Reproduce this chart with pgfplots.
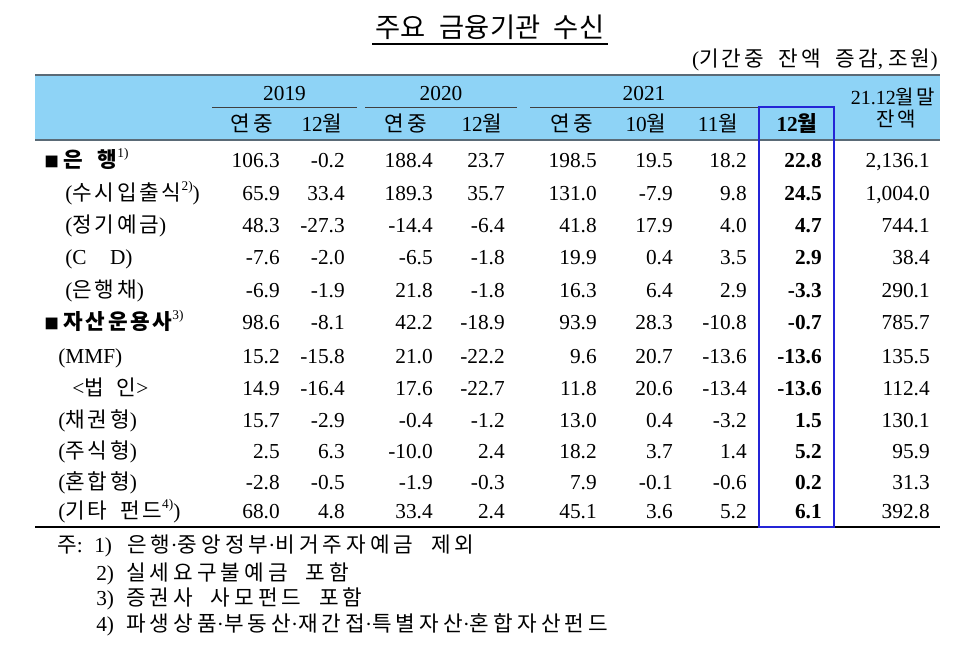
\documentclass[border=0pt]{standalone}
\usepackage{fontspec}
\setmainfont{Liberation Serif}
\newfontfamily\kr[Scale=1.0, LetterSpace=13]{Noto Sans CJK KR}
\newfontfamily\krn[Scale=1.0, LetterSpace=19]{Noto Sans CJK KR}
\newfontfamily\krt{Noto Sans CJK KR}
\usepackage{pgfplots}
\usepackage{pgfplotstable}
\pgfplotsset{compat=1.18}
\definecolor{band}{HTML}{8ED3F6}
\definecolor{boxblue}{HTML}{2424D6}
\definecolor{rulegray}{HTML}{5A6A76}
\newcommand\K[1]{{\kr #1}}
\newcommand\N[1]{{\krn #1}}
\newcommand\sps[1]{\raisebox{0.45em}{\fontsize{10}{10}\selectfont #1}}

% yb = baseline of the row (pixels from top)
\pgfplotstableread{
yb    a     b     c     d     e     f     g     h     bal
167.5 106.3 -0.2  188.4 23.7  198.5 19.5  18.2  22.8  2,136.1
200   65.9  33.4  189.3 35.7  131.0 -7.9  9.8   24.5  1,004.0
232   48.3  -27.3 -14.4 -6.4  41.8  17.9  4.0   4.7   744.1
264   -7.6  -2.0  -6.5  -1.8  19.9  0.4   3.5   2.9   38.4
297   -6.9  -1.9  21.8  -1.8  16.3  6.4   2.9   -3.3  290.1
329.5 98.6  -8.1  42.2  -18.9 93.9  28.3  -10.8 -0.7  785.7
363   15.2  -15.8 21.0  -22.2 9.6   20.7  -13.6 -13.6 135.5
395   14.9  -16.4 17.6  -22.7 11.8  20.6  -13.4 -13.6 112.4
427   15.7  -2.9  -0.4  -1.2  13.0  0.4   -3.2  1.5   130.1
458.5 2.5   6.3   -10.0 2.4   18.2  3.7   1.4   5.2   95.9
489.5 -2.8  -0.5  -1.9  -0.3  7.9   -0.1  -0.6  0.2   31.3
518.5 68.0  4.8   33.4  2.4   45.1  3.6   5.2   6.1   392.8
}\deposits

\begin{document}
\begin{tikzpicture}[font=\fontsize{16}{19}\selectfont,
  lab/.style={anchor=base west, inner sep=0pt},
  hd/.style={anchor=base, inner sep=0pt}]
\begin{axis}[width=729pt, height=495pt, scale only axis,
  xmin=0, xmax=972, ymin=0, ymax=660, y dir=reverse,
  hide axis, clip=false,
  cell/.style={draw=none, mark=none, nodes near coords,
    point meta=explicit symbolic,
    every node near coord/.append style={anchor=base east, inner sep=0pt,
      font=\fontsize{16}{19}\selectfont}},
  boldcell/.style={cell,
    every node near coord/.append style={font=\fontsize{16}{19}\selectfont\bfseries}}]

\fill[white] (0,0) rectangle (972,660);

% title and unit
\node[hd] at (490,38) {\fontsize{20.5}{24}\selectfont\krt 주요\hspace{0.5em}금융기관\hspace{0.5em}수신};
\draw[line width=0.9pt] (372,44) -- (608,44);
\node[anchor=base east, inner sep=0pt] at (938,67) {(\K{기간중\ \ 잔액\ \ 증감}, \K{조원})};

% header band
\fill[band] (35,75) rectangle (940,140);
\draw[rulegray, line width=1.5pt] (35,75) -- (940,75);
\draw[rulegray, line width=1.5pt] (35,140) -- (940,140);
\draw[black!75, line width=0.7pt] (212,107) -- (357,107);
\draw[black!75, line width=0.7pt] (365,107) -- (517,107);
\draw[black!75, line width=0.7pt] (530,107) -- (758,107);

\node[hd] at (284.5,101) {2019};
\node[hd] at (441,101) {2020};
\node[hd] at (644,101) {2021};
\node[hd] at (893,104) {\fontsize{15}{17}\selectfont 21.12\K{월말}};
\node[hd] at (896,127) {\fontsize{15}{17}\selectfont\K{잔액}};

\node[hd] at (252,132) {\K{연중}};
\node[hd] at (322,132) {12\K{월}};
\node[hd] at (406,132) {\K{연중}};
\node[hd] at (482,132) {12\K{월}};
\node[hd] at (572,132) {\K{연중}};
\node[hd] at (646,132) {10\K{월}};
\node[hd] at (718,132) {11\K{월}};
\node[hd] at (797,132) {\textbf{12}\K{\bfseries 월}};

% row labels
\node[lab] at (44,167.5) {\fontsize{11}{11}\selectfont\krt ■};
\node[lab] at (63,167.5) {\K{\bfseries 은\hspace{0.7em}행}\sps{1)}};
\node[lab] at (65,200) {(\K{수시입출식}\sps{2)})};
\node[lab] at (65,232) {(\K{정기예금})};
\node[lab] at (65,264) {(C\hspace{1.1em}D)};
\node[lab] at (65,297) {(\K{은행채})};
\node[lab] at (44,329.5) {\fontsize{11}{11}\selectfont\krt ■};
\node[lab] at (63,329.5) {\K{\bfseries 자산운용사}\sps{3)}};
\node[lab] at (58,363) {(MMF)};
\node[lab] at (72,395) {<\K{법\hspace{0.6em}인}>};
\node[lab] at (58,427) {(\K{채권형})};
\node[lab] at (58,458.5) {(\K{주식형})};
\node[lab] at (58,489.5) {(\K{혼합형})};
\node[lab] at (58,518.5) {(\K{기타\hspace{0.6em}펀드}\sps{4)})};

% values
\addplot[cell] table[x expr=280, y=yb, meta=a] {\deposits};
\addplot[cell] table[x expr=345, y=yb, meta=b] {\deposits};
\addplot[cell] table[x expr=433, y=yb, meta=c] {\deposits};
\addplot[cell] table[x expr=505, y=yb, meta=d] {\deposits};
\addplot[cell] table[x expr=597, y=yb, meta=e] {\deposits};
\addplot[cell] table[x expr=673, y=yb, meta=f] {\deposits};
\addplot[cell] table[x expr=747, y=yb, meta=g] {\deposits};
\addplot[boldcell] table[x expr=822, y=yb, meta=h] {\deposits};
\addplot[cell] table[x expr=930, y=yb, meta=bal] {\deposits};

% bottom rule and highlight box
\draw[black, line width=0.9pt] (35,527) -- (940,527);
\draw[boxblue, line width=1.4pt] (759,107) rectangle (834,527);

% notes
\node[lab] at (57,552) {\K{주}:};
\node[lab] at (94,552) {1)};
\node[lab] at (127,552) {\N{은행}·\N{중앙정부}·\N{비거주자예금\ \ 제외}};
\node[lab] at (96,580) {2)};
\node[lab] at (126,580) {\N{실세요구불예금\ \ 포함}};
\node[lab] at (96,605) {3)};
\node[lab] at (126,605) {\N{증권사\ \ 사모펀드\ \ 포함}};
\node[lab] at (96,631) {4)};
\node[lab] at (126,631) {\N{파생상품}·\N{부동산}·\N{재간접}·\N{특별자산}·\N{혼합자산펀드}};
\end{axis}
\end{tikzpicture}
\end{document}
